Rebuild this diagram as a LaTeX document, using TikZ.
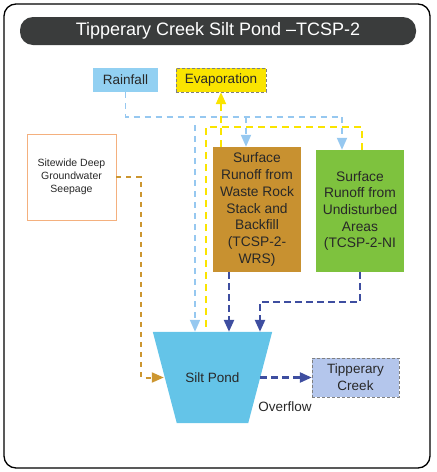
\documentclass[tikz,border=0pt]{standalone}
\usepackage{fontspec}
\setmainfont{Liberation Sans}
\usetikzlibrary{shapes.geometric,arrows.meta,backgrounds}
\definecolor{titlegrey}{RGB}{58, 60, 60}
\definecolor{rainblue}{RGB}{146, 208, 242}
\definecolor{rainline}{RGB}{150, 200, 240}
\definecolor{evapyellow}{RGB}{250, 228, 0}
\definecolor{seeporange}{RGB}{244, 176, 126}
\definecolor{seepbrown}{RGB}{204, 150, 48}
\definecolor{wrsbrown}{RGB}{200, 145, 48}
\definecolor{nigreen}{RGB}{126, 194, 62}
\definecolor{pondblue}{RGB}{100, 196, 232}
\definecolor{creekblue}{RGB}{180, 198, 236}
\definecolor{runoffblue}{RGB}{62, 78, 160}
\definecolor{textgrey}{RGB}{40, 40, 40}

\begin{document}
\begin{tikzpicture}[x=1pt, y=-1pt,
  txt/.style={align=center, inner sep=0pt, text=textgrey, font=\fontsize{13.5}{16.7}\selectfont},
  srcbox/.style={txt, rectangle, minimum height=24pt},
  runbox/.style={txt, rectangle, minimum width=88pt, font=\fontsize{13.8}{16.7}\selectfont},
  tip/.style={-{Triangle[length=12pt, width=10pt]}},
  rainflow/.style={draw=rainline, line width=1.8pt, dash pattern=on 6pt off 5pt},
  evapflow/.style={draw=evapyellow, line width=2.2pt, dash pattern=on 7pt off 5pt},
  seepflow/.style={draw=seepbrown, line width=2pt, dash pattern=on 5pt off 5pt},
  runoff/.style={draw=runoffblue, line width=2.5pt, dash pattern=on 7pt off 4pt}
]
\useasboundingbox (0,0) rectangle (437,472);
\draw[line width=1.3pt, rounded corners=12pt] (4,4) rectangle (430,468);

\node[rectangle, rounded corners=13pt, fill=titlegrey, text=white, minimum width=396pt, minimum height=28pt, font=\fontsize{18}{22}\selectfont] (title) at (218,31) {Tipperary Creek Silt Pond --TCSP-2};

\node[srcbox, fill=rainblue, minimum width=65pt] (rain) at (125.5,80) {Rainfall};
\node[srcbox, fill=evapyellow, draw=gray, densely dashed, minimum width=90pt] (evap) at (221,80) {Evaporation};
\node[txt, rectangle, draw=seeporange, minimum width=89pt, minimum height=86pt, font=\fontsize{10.5}{13}\selectfont] (seep) at (71.5,177) {Sitewide Deep\\Groundwater\\Seepage};
\node[runbox, fill=wrsbrown, minimum height=125pt] (wrs) at (257,209.5) {Surface\\Runoff from\\Waste Rock\\Stack and\\Backfill\\(TCSP-2-\\WRS)};
\node[runbox, fill=nigreen, minimum height=122pt] (ni) at (360,211) {Surface\\Runoff from\\Undisturbed\\Areas\\(TCSP-2-NI};
\node[txt, rectangle, minimum width=119pt, minimum height=91pt] (pond) at (212.5,377.5) {Silt Pond};
\node[srcbox, fill=creekblue, draw=gray, densely dashed, minimum width=87pt, minimum height=39pt] (creek) at (355.5,377.5) {Tipperary\\Creek};
\node[txt] (overflow) at (285,407) {Overflow};

% pond body, narrower at the bottom
\begin{scope}[on background layer]
  \fill[pondblue] (pond.north west) -- (pond.north east) -- ([xshift=-24pt]pond.south east) -- ([xshift=24pt]pond.south west) -- cycle;
\end{scope}

% bends
\coordinate (rainbend) at (342,117);
\coordinate (rainwrs) at (246,117);
\coordinate (rainpond) at (195,125);
\coordinate (evapbend) at (206,127);
\coordinate (seepbend) at (141,377.5);
\coordinate (wrsout) at (229,272);
\coordinate (nibend) at (260,302);

\draw[rainflow] (rain.south) |- (rainbend);
\draw[rainflow, tip, rainline] (rainbend) -- (rainbend |- ni.north);
\draw[rainflow, tip, rainline] (rainwrs) -- (rainwrs |- wrs.north);
\draw[rainflow, tip, rainline] (rainpond) -- (rainpond |- pond.north);

\draw[evapflow, tip, evapyellow] (evap.south |- wrs.north) -- (evap.south);
\draw[evapflow] (ni.north -| 362,0) |- (evapbend) -- (evapbend |- pond.north);

\draw[seepflow, tip, seepbrown] (seep.east) -| (seepbend) -- ([xshift=11pt]pond.west);

\draw[runoff, tip, runoffblue] (wrsout) -- (wrsout |- pond.north);
\draw[runoff, tip, runoffblue] (ni.south) |- (nibend) -- (nibend |- pond.north);
\draw[runoff, tip, runoffblue] ([xshift=-12pt]pond.east) -- (creek.west);

\end{tikzpicture}
\end{document}
